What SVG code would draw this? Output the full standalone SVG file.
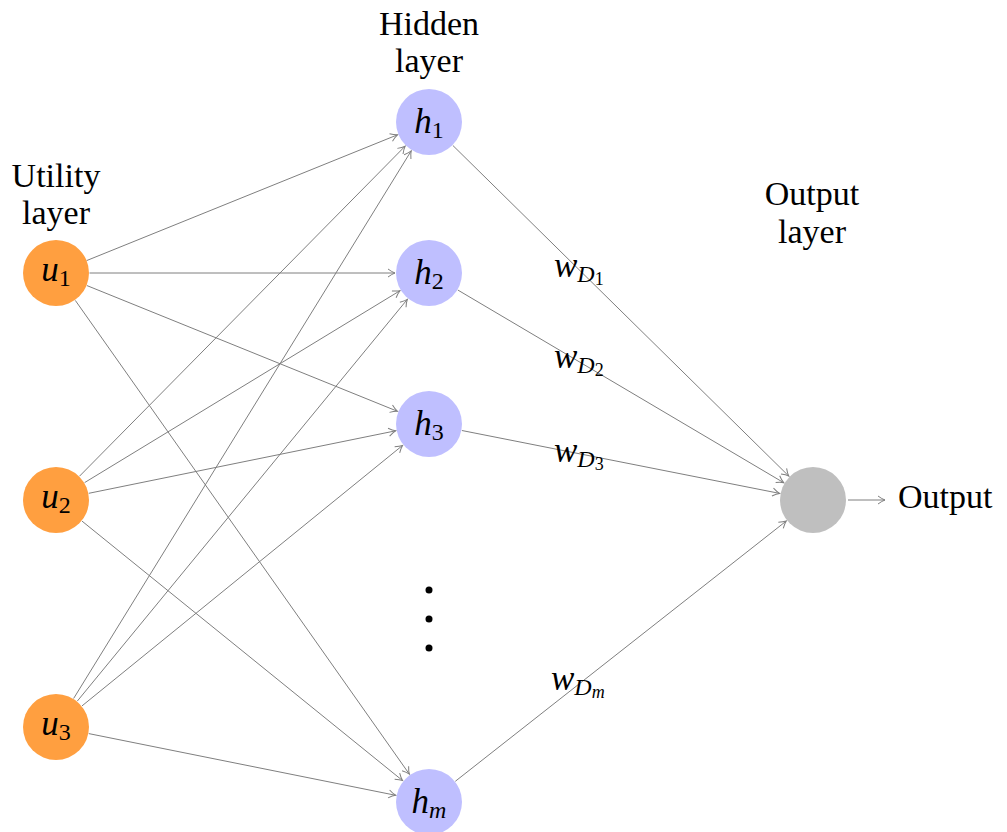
<svg xmlns="http://www.w3.org/2000/svg" width="1007" height="832" viewBox="0 0 1007 832">
<style>
.e{stroke:#7f7f7f;stroke-width:1;fill:none;marker-end:url(#ah)}
.t{font-family:"Liberation Serif","DejaVu Serif",serif;font-size:34px;fill:#000}
.m{font-family:"Liberation Serif","DejaVu Serif",serif;font-size:35px;fill:#000}
.i{font-style:italic}
.u{fill:#ff9f40}
.h{fill:#bfbfff}
.o{fill:#bfbfbf}
</style>
<defs>
<marker id="ah" markerUnits="userSpaceOnUse" markerWidth="12" markerHeight="12" refX="0" refY="0" viewBox="-9 -6 12 12" orient="auto" overflow="visible">
<path d="M-7,-4 Q-3,-1 0,0 Q-3,1 -7,4" fill="none" stroke="#7f7f7f" stroke-width="1"/>
</marker>
</defs>
<rect width="1007" height="832" fill="#fff"/>
<g id="connectors">
<line class="e" x1="86.6" y1="260.6" x2="397.5" y2="134.8"/>
<line class="e" x1="89.5" y1="273" x2="395" y2="273"/>
<line class="e" x1="87" y1="285.6" x2="397.5" y2="411.3"/>
<line class="e" x1="75.3" y1="300.4" x2="409.4" y2="774.2"/>
<line class="e" x1="79.5" y1="476.2" x2="405.1" y2="146.2"/>
<line class="e" x1="84.6" y1="482.6" x2="400" y2="290.7"/>
<line class="e" x1="88.8" y1="493.3" x2="395.7" y2="430.8"/>
<line class="e" x1="82" y1="521.1" x2="402.6" y2="780.6"/>
<line class="e" x1="73.6" y1="698.5" x2="411.2" y2="150.9"/>
<line class="e" x1="77.3" y1="701.1" x2="407.4" y2="299.3"/>
<line class="e" x1="82" y1="705.9" x2="402.6" y2="445.4"/>
<line class="e" x1="88.8" y1="733.6" x2="395.7" y2="795.3"/>
<line class="e" x1="452.9" y1="145.5" x2="788.8" y2="476.1"/>
<line class="e" x1="457.8" y1="290" x2="783.7" y2="482.7"/>
<line class="e" x1="461.9" y1="430.5" x2="779.6" y2="493.4"/>
<line class="e" x1="455.3" y1="781.3" x2="786.3" y2="521"/>
<line class="e" x1="848" y1="500" x2="885" y2="500"/>
</g>
<g id="weights">
<text class="m" x="554" y="277"><tspan class="i">w</tspan><tspan class="i" font-size="24" dy="5">D</tspan><tspan font-size="18" dy="3">1</tspan></text>
<text class="m" x="554" y="368"><tspan class="i">w</tspan><tspan class="i" font-size="24" dy="5">D</tspan><tspan font-size="18" dy="3">2</tspan></text>
<text class="m" x="554" y="462"><tspan class="i">w</tspan><tspan class="i" font-size="24" dy="5">D</tspan><tspan font-size="18" dy="3">3</tspan></text>
<text class="m" x="551" y="690"><tspan class="i">w</tspan><tspan class="i" font-size="24" dy="5">D</tspan><tspan class="i" font-size="18" dy="3">m</tspan></text>
</g>
<g id="u1"><circle class="u" cx="56" cy="273" r="33"/><text class="m" x="56" y="281" text-anchor="middle"><tspan class="i">u</tspan><tspan font-size="24" dy="5">1</tspan></text></g>
<g id="u2"><circle class="u" cx="56" cy="500" r="33"/><text class="m" x="56" y="508" text-anchor="middle"><tspan class="i">u</tspan><tspan font-size="24" dy="5">2</tspan></text></g>
<g id="u3"><circle class="u" cx="56" cy="727" r="33"/><text class="m" x="56" y="735" text-anchor="middle"><tspan class="i">u</tspan><tspan font-size="24" dy="5">3</tspan></text></g>
<g id="h1"><circle class="h" cx="429" cy="122" r="33"/><text class="m" x="429" y="133" text-anchor="middle"><tspan class="i">h</tspan><tspan font-size="24" dy="5">1</tspan></text></g>
<g id="h2"><circle class="h" cx="429" cy="273" r="33"/><text class="m" x="429" y="284" text-anchor="middle"><tspan class="i">h</tspan><tspan font-size="24" dy="5">2</tspan></text></g>
<g id="h3"><circle class="h" cx="429" cy="424" r="33"/><text class="m" x="429" y="435" text-anchor="middle"><tspan class="i">h</tspan><tspan font-size="24" dy="5">3</tspan></text></g>
<g id="hm"><circle class="h" cx="429" cy="802" r="33"/><text class="m" x="429" y="813" text-anchor="middle"><tspan class="i">h</tspan><tspan class="i" font-size="24" dy="5">m</tspan></text></g>
<g id="dots"><circle cx="429" cy="590" r="3.5"/><circle cx="429" cy="619" r="3.5"/><circle cx="429" cy="648" r="3.5"/></g>
<g id="out"><circle class="o" cx="813" cy="500" r="33"/></g>
<g id="labels">
<text class="t" x="56" y="187" text-anchor="middle">Utility</text>
<text class="t" x="56" y="224" text-anchor="middle">layer</text>
<text class="t" x="429" y="35" text-anchor="middle">Hidden</text>
<text class="t" x="429" y="72" text-anchor="middle">layer</text>
<text class="t" x="812" y="205" text-anchor="middle">Output</text>
<text class="t" x="812" y="243" text-anchor="middle">layer</text>
<text class="t" x="898" y="508">Output</text>
</g>
</svg>
